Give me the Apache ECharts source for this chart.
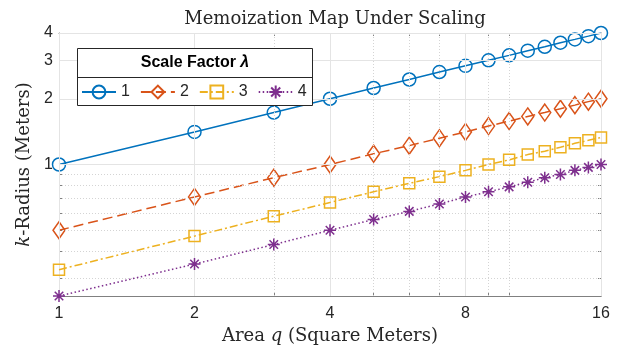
<!DOCTYPE html>
<html><head><meta charset="utf-8">
<script src="https://cdn.jsdelivr.net/npm/echarts@6/dist/echarts.min.js"></script>
<style>html,body{margin:0;padding:0;background:#fff}#c{width:636px;height:353px}</style>
</head><body><div id="c"></div>
<script>
// ---- data ----
const areas = [1,2,3,4,5,6,7,8,9,10,11,12,13,14,15,16];
const radiusScale1 = [1.00,1.41,1.73,2.00,2.24,2.45,2.65,2.83,3.00,3.16,3.32,3.46,3.61,3.74,3.87,4.00];
const radiusScale2 = [0.50,0.71,0.87,1.00,1.12,1.22,1.32,1.41,1.50,1.58,1.66,1.73,1.80,1.87,1.94,2.00];
const radiusScale3 = [0.33,0.47,0.58,0.67,0.75,0.82,0.88,0.94,1.00,1.05,1.11,1.15,1.20,1.25,1.29,1.33];
const radiusScale4 = [0.25,0.35,0.43,0.50,0.56,0.61,0.66,0.71,0.75,0.79,0.83,0.87,0.90,0.94,0.97,1.00];
const seriesNames = ['1','2','3','4'];
const xMajorTicks = [1,2,4,8,16];
const xMinorTicks = [3,5,6,7,9,10];
const yMajorTicks = [1,2,3,4];
const yMinorTicks = [0.3,0.4,0.5,0.6,0.7,0.8,0.9];
const titleText = 'Memoization Map Under Scaling';
const legendTitle = 'Scale Factor ';

// ---- styling ----
const colors = ['#0072BD','#D95319','#EDB120','#7E2F8E'];
const axisColor = '#808080';
const textColor = '#262626';
const serif = 'DejaVu Serif';
const sans = 'Liberation Sans';
const G = {left:59, right:35, top:33, bottom:57};
const starPath = 'path://M5,0L5,10M0,5L10,5M1.46,1.46L8.54,8.54M1.46,8.54L8.54,1.46';

function pairs(ys){ return areas.map((x,i)=>[x, ys[i]]); }

function xAxisDef(pos, ticks, len, showLine, showLabel){
  return {
    type:'log', logBase:2, min:1, max:16, position:pos,
    axisLine:{show:showLine, onZero:false, lineStyle:{color:axisColor, width:1}},
    axisTick:{show:true, inside:true, length:len, customValues:ticks, lineStyle:{color:axisColor, width:1}},
    axisLabel:{show:showLabel, customValues:xMajorTicks, color:textColor, fontFamily:sans, fontSize:16, margin:10},
    splitLine:{show:false}, minorTick:{show:false}
  };
}
function yAxisDef(pos, ticks, len, showLine, showLabel){
  return {
    type:'log', logBase:2, min:0.25, max:4, position:pos,
    axisLine:{show:showLine, onZero:false, lineStyle:{color:axisColor, width:1}},
    axisTick:{show:true, inside:true, length:len, customValues:ticks, lineStyle:{color:axisColor, width:1}},
    axisLabel:{show:showLabel, customValues:yMajorTicks, color:textColor, fontFamily:sans, fontSize:16, margin:6},
    splitLine:{show:false}, minorTick:{show:false}
  };
}

const xAxes = [
  xAxisDef('bottom', xMajorTicks, 5, true, true),
  xAxisDef('top', xMajorTicks, 5, true, false),
  xAxisDef('bottom', xMinorTicks, 3, false, false),
  xAxisDef('top', xMinorTicks, 3, false, false)
];
xAxes[0].name = 'Area {i|q} (Square Meters)';
xAxes[0].nameLocation = 'middle';
xAxes[0].nameGap = 31;
xAxes[0].nameTextStyle = {fontFamily:serif, fontSize:18, color:textColor,
  rich:{i:{fontFamily:serif, fontStyle:'italic', fontSize:18, color:textColor}}};

const yAxes = [
  yAxisDef('left', yMajorTicks, 5, true, true),
  yAxisDef('right', yMajorTicks, 5, true, false),
  yAxisDef('left', yMinorTicks, 3, false, false),
  yAxisDef('right', yMinorTicks, 3, false, false)
];
yAxes[0].name = '{i|k}-Radius (Meters)';
yAxes[0].nameLocation = 'middle';
yAxes[0].nameGap = 18;
yAxes[0].nameTextStyle = {fontFamily:serif, fontSize:18, color:textColor,
  rich:{i:{fontFamily:serif, fontStyle:'italic', fontSize:18, color:textColor}}};

const majorGrid = {color:'#e4e4e4', width:1, type:'solid'};
const minorGrid = {color:'#d4d4d4', width:1, type:[1,2]};
const gridLines = [].concat(
  xMinorTicks.map(v=>({xAxis:v, lineStyle:minorGrid})),
  yMinorTicks.map(v=>({yAxis:v, lineStyle:minorGrid})),
  xMajorTicks.map(v=>({xAxis:v, lineStyle:majorGrid})),
  yMajorTicks.map(v=>({yAxis:v, lineStyle:majorGrid}))
);

const seriesData = [radiusScale1, radiusScale2, radiusScale3, radiusScale4];
const symbols = ['circle','diamond','rect', starPath];
const symbolSizes = [13, [12,17], 11, 12];
const lineTypes = ['solid', [10,5], [8,3,2,3], [1.5,2.5]];

const series = [{
  name:'grid', type:'line', data:[], silent:true, z:1,
  markLine:{silent:true, symbol:['none','none'], label:{show:false}, animation:false, data:gridLines}
}];
seriesData.forEach((d,i)=>{
  series.push({
    name:seriesNames[i], type:'line', data:pairs(d), z:3+i,
    symbol:symbols[i], symbolSize:symbolSizes[i], showAllSymbol:true,
    lineStyle:{color:colors[i], width:1.5, type:lineTypes[i]},
    itemStyle:{color:'rgba(0,0,0,0)', borderColor:colors[i], borderWidth:1.5},
    emphasis:{disabled:true}
  });
});

const chart = echarts.init(document.getElementById('c'), null, {renderer:'canvas'});
chart.setOption({
  animation:false,
  backgroundColor:'#fff',
  grid:{left:G.left, right:G.right, top:G.top, bottom:G.bottom, containLabel:false},
  title:{text:titleText, left:330, top:5, textAlign:'center',
    textStyle:{fontFamily:serif, fontSize:18, fontWeight:'normal', color:textColor}},
  xAxis:xAxes, yAxis:yAxes,
  legend:{data:seriesNames, left:76, top:79, z:100, itemWidth:34, itemHeight:16, itemGap:10,
    textStyle:{fontFamily:sans, fontSize:16, color:textColor}, selectedMode:false},
  graphic:[
    {type:'rect', shape:{x:77.5, y:48.5, width:235, height:57}, z:50,
      style:{fill:'#fff', stroke:'#262626', lineWidth:1}},
    {type:'line', shape:{x1:77.5, y1:77.5, x2:312.5, y2:77.5}, z:51,
      style:{stroke:'#262626', lineWidth:1}},
    {type:'text', x:195, y:63, z:52,
      style:{text:'{b|' + legendTitle + '}{l|λ}', align:'center', verticalAlign:'middle',
        rich:{b:{fontFamily:sans, fontWeight:'bold', fontSize:16, fill:'#000'},
              l:{fontFamily:sans, fontWeight:'bold', fontStyle:'italic', fontSize:16, fill:'#000'}}}}
  ],
  series:series
});
</script></body></html>
